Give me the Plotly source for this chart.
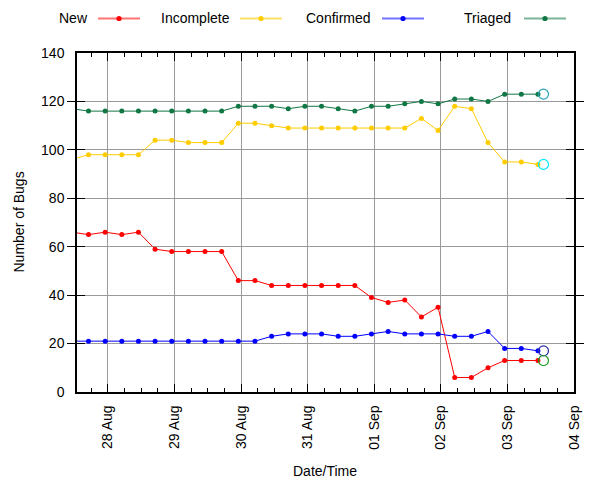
import pandas as pd
import plotly.graph_objects as go

# ---- data (every 6 hours, first point lies just left of the visible range) ----
start_time = "2014-08-27 11:00"
n_points = 29
times = pd.date_range(start_time, periods=n_points, freq="6h")

new = [66, 65, 66, 65, 66, 59, 58, 58, 58, 58, 46, 46,
       44, 44, 44, 44, 44, 44, 39, 37, 38, 31, 35,
       6, 6, 10, 13, 13, 13]
incomplete = [96, 98, 98, 98, 98, 104, 104, 103, 103, 103, 111, 111,
              110, 109, 109, 109, 109, 109, 109, 109, 109, 113, 108,
              118, 117, 103, 95, 95, 94]
confirmed = [21, 21, 21, 21, 21, 21, 21, 21, 21, 21, 21, 21,
             23, 24, 24, 24, 23, 23, 24, 25, 24, 24, 24,
             23, 23, 25, 18, 18, 17]
triaged = [117, 116, 116, 116, 116, 116, 116, 116, 116, 116, 118, 118,
           118, 117, 118, 118, 117, 116, 118, 118, 119, 120, 119,
           121, 121, 120, 123, 123, 123]

# latest snapshot (open circles)
latest_time = "2014-09-03 13:00"
latest_names = ["Triaged", "Incomplete", "Confirmed", "New"]
latest_values = [123, 94, 17, 13]
latest_colors = ["#22a2b2", "#00e8ff", "#2a2aa8", "#22a022"]

series_names = ["New", "Incomplete", "Confirmed", "Triaged"]
series_values = [new, incomplete, confirmed, triaged]
series_colors = ["#ff0000", "#ffcc00", "#0000ff", "#117744"]
legend_line_colors = ["rgba(255,0,0,0.55)", "rgba(255,204,0,0.6)",
                      "rgba(0,0,255,0.55)", "rgba(17,119,68,0.55)"]

x_range = ["2014-08-27 12:51", "2014-09-04 00:00"]
y_range = [0, 140]

FONT = "Liberation Sans, Arial, sans-serif"

# ---- layout geometry (pixels) ----
W, H = 600, 480
ML, MR, MT, MB = 77, 26, 53, 88
PW, PH = W - ML - MR, H - MT - MB


def px_x(px):
    return (px - ML) / PW


def px_y(py):
    return (H - MB - py) / PH


fig = go.Figure()
for name, vals, col in zip(series_names, series_values, series_colors):
    fig.add_trace(go.Scatter(
        x=times, y=vals, name=name, mode="lines+markers",
        line=dict(color=col, width=1),
        marker=dict(color=col, size=5),
        showlegend=False, cliponaxis=True,
    ))

for name, val, col in zip(latest_names, latest_values, latest_colors):
    fig.add_trace(go.Scatter(
        x=[latest_time], y=[val], mode="markers", name=name + " now",
        marker=dict(symbol="circle-open", size=10, color=col, line=dict(width=1.2, color=col)),
        showlegend=False,
    ))

# invisible trace to carry the top (mirror) axis with minor ticks
fig.add_trace(go.Scatter(x=[times[1]], y=[None], xaxis="x2", yaxis="y",
                         mode="markers", showlegend=False, hoverinfo="skip"))

# ---- custom legend: text then line sample with dot ----
legend_text_right = [89.5, 232, 373, 513]
legend_line_start = [98, 240, 382, 524]
legend_line_len = 42
legend_y = 18.5
shapes = []
annotations = []
for i, name in enumerate(series_names):
    x0 = legend_line_start[i]
    x1 = x0 + legend_line_len
    xc = (x0 + x1) / 2
    annotations.append(dict(
        x=px_x(legend_text_right[i]), y=px_y(legend_y), xref="paper", yref="paper",
        text=name, showarrow=False, xanchor="right", yanchor="middle",
        font=dict(family=FONT, size=14, color="black"),
    ))
    shapes.append(dict(
        type="line", xref="paper", yref="paper",
        x0=px_x(x0), x1=px_x(x1), y0=px_y(legend_y), y1=px_y(legend_y),
        line=dict(color=legend_line_colors[i], width=2),
    ))
    r = 2.6
    shapes.append(dict(
        type="circle", xref="paper", yref="paper",
        x0=px_x(xc - r), x1=px_x(xc + r), y0=px_y(legend_y + r), y1=px_y(legend_y - r),
        fillcolor=series_colors[i], line=dict(width=0),
    ))

annotations.append(dict(
    x=px_x(18), y=0.5, xref="paper", yref="paper", text="Number of Bugs",
    textangle=-90, showarrow=False, xanchor="center", yanchor="middle",
    font=dict(family=FONT, size=14, color="black"),
))
annotations.append(dict(
    x=px_x(325), y=px_y(471), xref="paper", yref="paper", text="Date/Time",
    showarrow=False, xanchor="center", yanchor="middle",
    font=dict(family=FONT, size=14, color="black"),
))

fig.update_layout(
    width=W, height=H,
    margin=dict(l=ML, r=MR, t=MT, b=MB),
    paper_bgcolor="white", plot_bgcolor="white",
    font=dict(family=FONT, size=14, color="black"),
    shapes=shapes, annotations=annotations,
    showlegend=False,
)

fig.update_xaxes(
    type="date", range=x_range,
    dtick=86400000, tick0="2014-08-28", tickformat="%d %b", tickangle=-90,
    ticks="inside", ticklen=8, tickcolor="black", tickwidth=1,
    ticklabelstandoff=6,
    showgrid=True, gridcolor="#9a9a9a", gridwidth=1,
    showline=True, linecolor="black", linewidth=1.5, mirror="allticks",
    minor=dict(dtick=21600000, ticks="inside", ticklen=4, tickcolor="black", showgrid=False),
    zeroline=False,
    tickfont=dict(family=FONT, size=14),
    selector=dict(anchor="y") if False else None,
)
fig.update_layout(xaxis2=dict(
    type="date", range=x_range, overlaying="x", side="top", anchor="y",
    dtick=86400000, tick0="2014-08-28", showticklabels=False,
    ticks="inside", ticklen=8, tickcolor="black", tickwidth=1,
    showgrid=False, showline=False, zeroline=False,
    minor=dict(dtick=21600000, ticks="inside", ticklen=4, tickcolor="black", showgrid=False),
))
fig.update_yaxes(
    range=y_range, dtick=20,
    ticks="inside", ticklen=8, tickcolor="black", tickwidth=1,
    ticklabelstandoff=8,
    showgrid=True, gridcolor="#9a9a9a", gridwidth=1,
    showline=True, linecolor="black", linewidth=1.5, mirror="allticks",
    zeroline=False,
    tickfont=dict(family=FONT, size=14),
)

fig.write_html("out.html")
